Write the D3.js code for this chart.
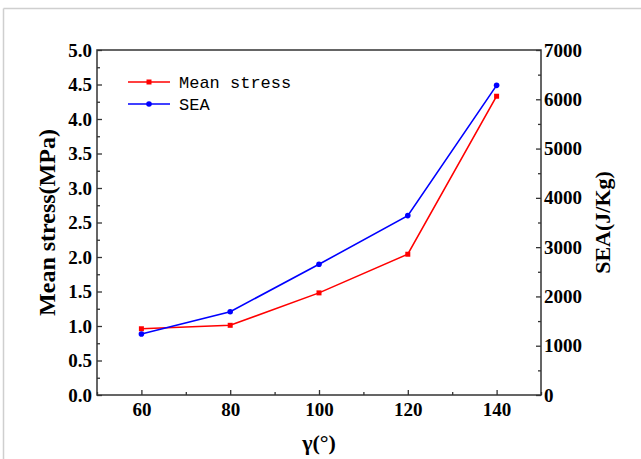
<!DOCTYPE html>
<html>
<head>
<meta charset="utf-8">
<script src="https://cdn.jsdelivr.net/npm/d3@7"></script>
<style>
  html, body { margin: 0; padding: 0; background: #fff; }
  svg { display: block; }
</style>
</head>
<body>
<svg id="chart" width="641" height="459"></svg>
<script>
// Opening angle γ (degrees)
const gammaValues = [60, 80, 100, 120, 140];
// Mean stress (MPa), left axis
const meanStress = [0.96, 1.01, 1.48, 2.04, 4.33];
// Specific energy absorption (J/Kg), right axis
const seaValues = [1238, 1690, 2652, 3640, 6283];

const xTicks = [60, 80, 100, 120, 140];
const leftTicks = [0, 0.5, 1, 1.5, 2, 2.5, 3, 3.5, 4, 4.5, 5];
const rightTicks = [0, 1000, 2000, 3000, 4000, 5000, 6000, 7000];

const svg = d3.select("#chart");
const W = 641, H = 459;
const m = { left: 97, right: 541, top: 50, bottom: 395 };

// outer frame (top and left edges)
svg.append("line").attr("x1", 3.5).attr("x2", W).attr("y1", 8.5).attr("y2", 8.5)
  .attr("stroke", "#cfcfcf").attr("stroke-width", 1.5);
svg.append("line").attr("x1", 3.5).attr("x2", 3.5).attr("y1", 8.5).attr("y2", H)
  .attr("stroke", "#cfcfcf").attr("stroke-width", 1.5);

const x = d3.scaleLinear().domain([50, 150]).range([m.left, m.right]);
const yL = d3.scaleLinear().domain([0, 5]).range([m.bottom, m.top]);
const yR = d3.scaleLinear().domain([0, 7000]).range([m.bottom, m.top]);

const tickFont = "'Liberation Serif', 'Times New Roman', serif";
const axisColor = "#333";

function styleAxis(g) {
  g.select(".domain").remove();
  g.selectAll(".tick line").attr("stroke", axisColor).attr("stroke-width", 1.3);
  g.selectAll(".tick text")
    .attr("font-family", tickFont)
    .attr("font-weight", "bold")
    .attr("font-size", 19)
    .attr("fill", "#000");
}

// minor ticks
const xMinor = d3.range(50, 151, 10).filter(v => !xTicks.includes(v));
const lMinor = d3.range(0.25, 5, 0.5);
const rMinor = d3.range(500, 7000, 1000);

const bottomAxis = svg.append("g").attr("transform", `translate(0,${m.bottom})`)
  .call(d3.axisBottom(x).tickValues(xTicks).tickSize(-5).tickPadding(10).tickFormat(d3.format("d")));
styleAxis(bottomAxis);
bottomAxis.selectAll(".tick text").attr("dy", "0.71em").attr("y", 8);
svg.append("g").attr("transform", `translate(0,${m.bottom})`)
  .call(d3.axisBottom(x).tickValues(xMinor).tickSize(-3).tickFormat(""))
  .call(g => { g.select(".domain").remove(); g.selectAll("line").attr("stroke", axisColor).attr("stroke-width", 1.3); });

const leftAxis = svg.append("g").attr("transform", `translate(${m.left},0)`)
  .call(d3.axisLeft(yL).tickValues(leftTicks).tickSize(-5).tickPadding(10).tickFormat(d3.format(".1f")));
styleAxis(leftAxis);
leftAxis.selectAll(".tick text").attr("x", -5);
svg.append("g").attr("transform", `translate(${m.left},0)`)
  .call(d3.axisLeft(yL).tickValues(lMinor).tickSize(-3).tickFormat(""))
  .call(g => { g.select(".domain").remove(); g.selectAll("line").attr("stroke", axisColor).attr("stroke-width", 1.3); });

const rightAxis = svg.append("g").attr("transform", `translate(${m.right},0)`)
  .call(d3.axisRight(yR).tickValues(rightTicks).tickSize(-5).tickFormat(d3.format("d")));
styleAxis(rightAxis);
rightAxis.selectAll(".tick text").attr("x", 3);
svg.append("g").attr("transform", `translate(${m.right},0)`)
  .call(d3.axisRight(yR).tickValues(rMinor).tickSize(-3).tickFormat(""))
  .call(g => { g.select(".domain").remove(); g.selectAll("line").attr("stroke", axisColor).attr("stroke-width", 1.3); });

// plot box
svg.append("rect")
  .attr("x", m.left).attr("y", m.top)
  .attr("width", m.right - m.left).attr("height", m.bottom - m.top)
  .attr("fill", "none").attr("stroke", axisColor).attr("stroke-width", 1.5);

// series
const stressPts = gammaValues.map((g, i) => [x(g), yL(meanStress[i])]);
const seaPts = gammaValues.map((g, i) => [x(g), yR(seaValues[i])]);
const line = d3.line();

svg.append("path").attr("d", line(stressPts))
  .attr("fill", "none").attr("stroke", "#ff0000").attr("stroke-width", 1.6);
svg.append("path").attr("d", line(seaPts))
  .attr("fill", "none").attr("stroke", "#0000ff").attr("stroke-width", 1.6);

svg.selectAll(".sq").data(stressPts).enter().append("rect")
  .attr("x", d => d[0] - 2.5).attr("y", d => d[1] - 2.5)
  .attr("width", 5).attr("height", 5).attr("fill", "#ff0000");
svg.selectAll(".dot").data(seaPts).enter().append("circle")
  .attr("cx", d => d[0]).attr("cy", d => d[1]).attr("r", 2.8).attr("fill", "#0000ff");

// legend
const legend = [
  { label: "Mean stress", color: "#ff0000", shape: "square", y: 82 },
  { label: "SEA", color: "#0000ff", shape: "circle", y: 104 }
];
legend.forEach(l => {
  svg.append("line").attr("x1", 128).attr("x2", 170).attr("y1", l.y).attr("y2", l.y)
    .attr("stroke", l.color).attr("stroke-width", 1.6);
  if (l.shape === "square") {
    svg.append("rect").attr("x", 149 - 2.5).attr("y", l.y - 2.5).attr("width", 5).attr("height", 5).attr("fill", l.color);
  } else {
    svg.append("circle").attr("cx", 149).attr("cy", l.y).attr("r", 2.8).attr("fill", l.color);
  }
  svg.append("text").attr("x", 179).attr("y", l.y + 6)
    .attr("font-family", "'Liberation Mono', 'DejaVu Sans Mono', monospace")
    .attr("font-size", 17).attr("fill", "#000").text(l.label);
});

// axis titles
const titleFont = "'Liberation Serif', 'Times New Roman', serif";
svg.append("text").attr("x", (m.left + m.right) / 2).attr("y", 450)
  .attr("text-anchor", "middle").attr("font-family", titleFont)
  .attr("font-weight", "bold").attr("font-size", 22).text("γ(°)");
svg.append("text").attr("transform", `translate(55,${(m.top + m.bottom) / 2}) rotate(-90)`)
  .attr("text-anchor", "middle").attr("font-family", titleFont)
  .attr("font-weight", "bold").attr("font-size", 24).text("Mean stress(MPa)");
svg.append("text").attr("transform", `translate(610,${(m.top + m.bottom) / 2}) rotate(-90)`)
  .attr("text-anchor", "middle").attr("font-family", titleFont)
  .attr("font-weight", "bold").attr("font-size", 22).text("SEA(J/Kg)");
</script>
</body>
</html>
